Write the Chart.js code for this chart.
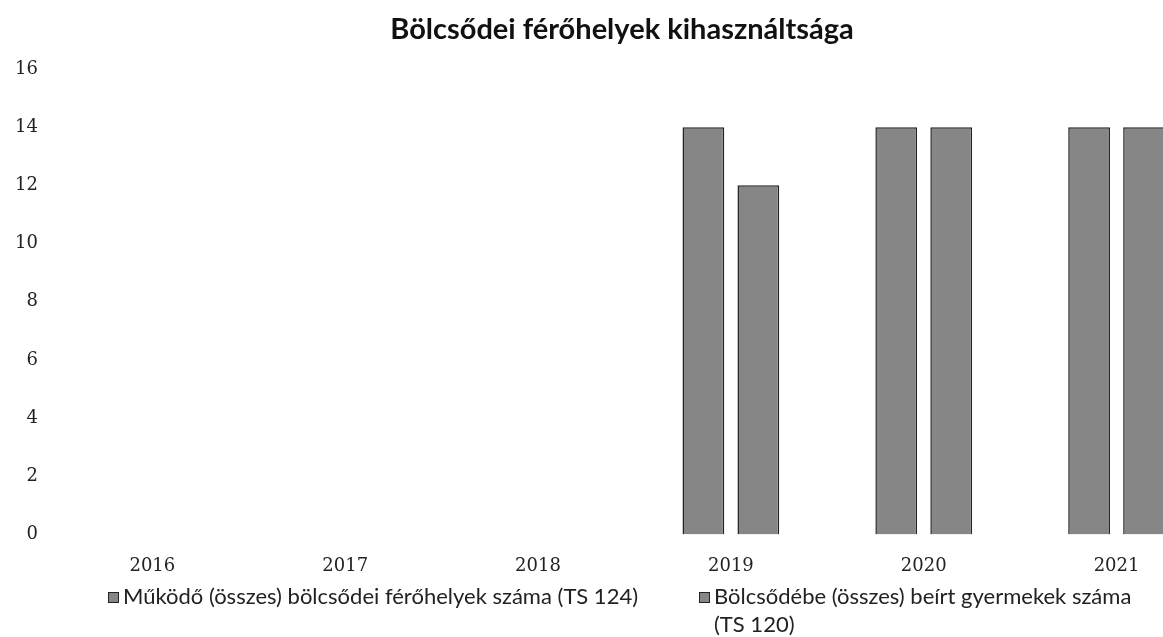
<!DOCTYPE html>
<html>
<head>
<meta charset="utf-8">
<script src="https://cdn.jsdelivr.net/npm/chart.js@4"></script>
<style>
  html, body { margin: 0; padding: 0; background: #fff; overflow: hidden; }
  #wrap { width: 1213px; height: 637px; }
</style>
</head>
<body>
<div id="wrap"><canvas id="chart"></canvas></div>
<script>
// adatok
const years = ['2016', '2017', '2018', '2019', '2020', '2021'];
const ferohelyek = [0, 0, 0, 14, 14, 14];
const beirtGyermekek = [0, 0, 0, 12, 14, 14];
const seriesNames = [
  'Működő (összes) bölcsődei férőhelyek száma (TS 124)',
  'Bölcsődébe (összes) beírt gyermekek száma (TS 120)'
];
const chartTitle = 'Bölcsődei férőhelyek kihasználtsága';

// cím: az eredeti képen nem a vászon közepén van
const topTitle = {
  id: 'topTitle',
  afterDraw(chart) {
    const ctx = chart.ctx;
    ctx.save();
    ctx.font = 'bold 29px Lato';
    ctx.fillStyle = '#111';
    ctx.textAlign = 'center';
    ctx.textBaseline = 'middle';
    ctx.fillText(chartTitle, 622, 30);
    ctx.restore();
  }
};

// saját jelmagyarázat alul, tördeléssel (a beépített nem tördel)
const bottomLegend = {
  id: 'bottomLegend',
  afterDraw(chart) {
    const ctx = chart.ctx;
    const starts = [108, 699];
    const y0 = 597;
    ctx.save();
    ctx.font = '22px Lato';
    ctx.textBaseline = 'middle';
    chart.data.datasets.forEach((ds, i) => {
      const x = starts[i];
      ctx.fillStyle = ds.backgroundColor;
      ctx.strokeStyle = ds.borderColor;
      ctx.lineWidth = 1;
      ctx.fillRect(x, y0 - 5, 11, 11);
      ctx.strokeRect(x + 0.5, y0 - 4.5, 10, 10);
      ctx.fillStyle = '#222';
      const maxW = 1160 - (x + 15);
      const words = ds.label.split(' ');
      let line = '';
      let yy = y0;
      words.forEach(w => {
        const test = line ? line + ' ' + w : w;
        if (ctx.measureText(test).width > maxW && line) {
          ctx.fillText(line, x + 15, yy);
          line = w;
          yy += 28;
        } else {
          line = test;
        }
      });
      ctx.fillText(line, x + 15, yy);
    });
    ctx.restore();
  }
};

new Chart(document.getElementById('chart'), {
  type: 'bar',
  data: {
    labels: years,
    datasets: [{
      label: seriesNames[0],
      data: ferohelyek,
      backgroundColor: '#868686',
      borderColor: '#222222',
      borderWidth: 1.5
    }, {
      label: seriesNames[1],
      data: beirtGyermekek,
      backgroundColor: '#868686',
      borderColor: '#222222',
      borderWidth: 1.5
    }]
  },
  options: {
    responsive: true,
    maintainAspectRatio: false,
    animation: false,
    categoryPercentage: 0.57,
    barPercentage: 0.76,
    layout: { padding: { left: 5, right: 0, top: 69, bottom: 47 } },
    scales: {
      x: {
        grid: { display: false },
        border: { display: false },
        ticks: { color: '#222', font: { family: 'DejaVu Serif', size: 18 }, padding: 13 }
      },
      y: {
        min: 0,
        max: 16,
        ticks: { stepSize: 2, color: '#222', font: { family: 'DejaVu Serif', size: 18 }, padding: 10 },
        grid: { display: false },
        border: { display: false }
      }
    },
    plugins: {
      legend: { display: false },
      tooltip: { enabled: false },
      title: { display: false }
    }
  },
  plugins: [topTitle, bottomLegend]
});
</script>
</body>
</html>
